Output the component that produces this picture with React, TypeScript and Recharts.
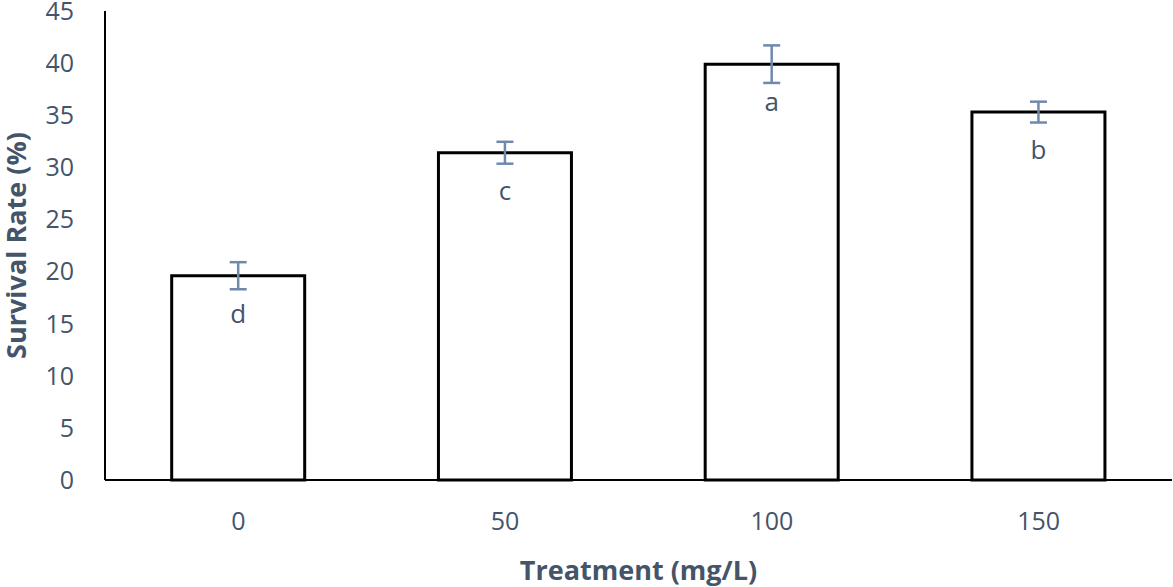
import React from 'react';
import { ComposedChart, Bar, XAxis, YAxis, ErrorBar, LabelList, Label } from 'recharts';

const categories = ['0', '50', '100', '150'];
const survival = [19.6, 31.4, 39.9, 35.3];
const errors = [1.3, 1.05, 1.8, 1.0];
const letters = ['d', 'c', 'a', 'b'];
const yTicks = [0, 5, 10, 15, 20, 25, 30, 35, 40, 45];

const data = categories.map((c, i) => ({ name: c, value: survival[i], err: errors[i], letter: letters[i] }));

const FONT = "'Open Sans', sans-serif";
const TEXT = '#44546A';

const LetterLabel = (props: any) => {
  const { x, y, width, value } = props;
  return (
    <text x={x + width / 2} y={y + 47} textAnchor="middle" fontFamily={FONT} fontSize={26} fill={TEXT}>
      {value}
    </text>
  );
};

const YTitle = (props: any) => {
  const vb = props.viewBox;
  const cx = 26;
  const cy = vb.y + vb.height / 2;
  return (
    <text x={cx} y={cy} transform={`rotate(-90, ${cx}, ${cy})`} textAnchor="middle" fontFamily={FONT} fontWeight="bold" fontSize={27} fill={TEXT}>
      Survival Rate (%)
    </text>
  );
};

const XTitle = (props: any) => {
  const vb = props.viewBox;
  return (
    <text x={vb.x + vb.width / 2} y={580} textAnchor="middle" fontFamily={FONT} fontWeight="bold" fontSize={27} fill={TEXT}>
      Treatment (mg/L)
    </text>
  );
};

export default function App() {
  return (
    <div style={{ position: 'absolute', left: 0, top: 0, background: '#fff' }}>
      <ComposedChart width={1173} height={587} data={data} margin={{ top: 11, right: 1, bottom: 0, left: 0 }} barCategoryGap="25%">
        <XAxis
          dataKey="name"
          height={107}
          axisLine={{ stroke: '#000', strokeWidth: 2 }}
          tickLine={false}
          tickSize={0}
          tickMargin={32}
          tick={{ fontFamily: FONT, fontSize: 25, fill: TEXT }}
        >
          <Label content={<XTitle />} />
        </XAxis>
        <YAxis
          width={105}
          domain={[0, 45]}
          ticks={yTicks}
          interval={0}
          axisLine={{ stroke: '#000', strokeWidth: 2 }}
          tickLine={false}
          tickSize={0}
          tickMargin={31}
          tick={{ fontFamily: FONT, fontSize: 25, fill: TEXT }}
        >
          <Label content={<YTitle />} />
        </YAxis>
        <Bar dataKey="value" fill="#fff" stroke="#000" strokeWidth={3} isAnimationActive={false}>
          <ErrorBar dataKey="err" width={8.5} stroke="#7089AB" strokeWidth={2.5} direction="y" />
          <LabelList dataKey="letter" content={<LetterLabel />} />
        </Bar>
      </ComposedChart>
    </div>
  );
}
